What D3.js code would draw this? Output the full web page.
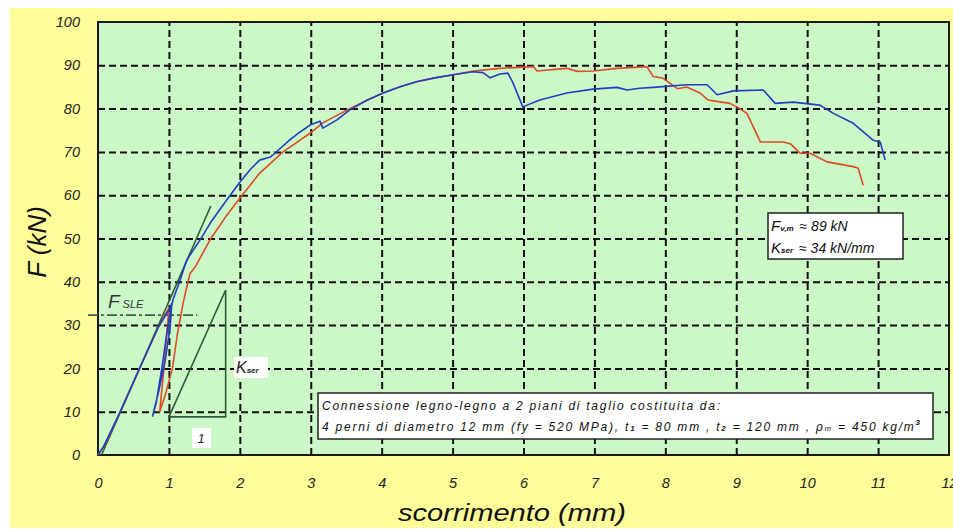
<!DOCTYPE html>
<html>
<head>
<meta charset="utf-8">
<script src="https://cdn.jsdelivr.net/npm/d3@7"></script>
<style>
  html, body { margin: 0; padding: 0; background: #ffffff; }
  svg { display: block; }
  text { font-family: "Liberation Sans", Arial, sans-serif; font-style: italic; }
</style>
</head>
<body>
<svg id="chart" width="953" height="532"></svg>
<script>
// Axis ticks
const xTicks = [0, 1, 2, 3, 4, 5, 6, 7, 8, 9, 10, 11, 12];
const yTicks = [0, 10, 20, 30, 40, 50, 60, 70, 80, 90, 100];

// Test 1 (blue): slip [mm], load [kN], including the unload/reload cycle at F_SLE
const blueSlip = [0, 0.08, 0.3, 0.6, 0.85, 1.0, 1.04, 1.02, 0.95, 0.86, 0.77, 0.82, 0.9, 0.97, 1.02, 1.06, 1.15, 1.25, 1.44, 1.6, 1.82, 2.0, 2.15, 2.28, 2.43, 2.55, 2.7, 2.85, 2.99, 3.13, 3.17, 3.37, 3.55, 3.8, 4.02, 4.25, 4.49, 4.75, 5.01, 5.29, 5.43, 5.53, 5.67, 5.78, 5.85, 5.99, 6.23, 6.61, 6.98, 7.32, 7.46, 7.64, 7.83, 8.3, 8.59, 8.73, 8.96, 9.38, 9.55, 9.8, 10.18, 10.37, 10.65, 10.93, 11.03, 11.1];
const blueLoad = [0, 2, 9.5, 20.5, 29.5, 33.5, 35, 30, 22, 15, 9, 12, 20, 28, 33, 36, 40, 45, 49.7, 54, 59, 63, 66, 68.1, 68.8, 70.5, 72.7, 74.6, 76.2, 77.1, 75.5, 77.4, 79.7, 82, 83.6, 85, 86.2, 87.1, 87.8, 88.5, 88.3, 87.1, 88, 88.2, 86, 80.4, 82, 83.6, 84.5, 84.9, 84.3, 84.7, 84.9, 85.5, 85.5, 83.2, 84.1, 84.3, 81.2, 81.5, 80.8, 78.9, 76.6, 72.7, 72.3, 68.1];

// Test 2 (red)
const redSlip = [0, 0.1, 0.3, 0.6, 0.85, 1.0, 0.97, 0.93, 0.87, 0.95, 1.05, 1.12, 1.2, 1.24, 1.27, 1.3, 1.37, 1.58, 1.8, 2.0, 2.28, 2.61, 2.85, 2.99, 3.17, 3.55, 3.8, 4.02, 4.25, 4.49, 4.75, 5.01, 5.29, 5.67, 6.14, 6.19, 6.61, 6.76, 6.98, 7.32, 7.74, 7.83, 7.97, 8.17, 8.3, 8.49, 8.6, 8.91, 9.01, 9.15, 9.34, 9.66, 9.76, 9.9, 10.04, 10.28, 10.65, 10.72, 10.79];
const redLoad = [0, 2.5, 9.5, 20.5, 29.5, 34, 28, 20, 10, 14, 20, 28, 35, 38, 40, 42, 43.4, 49.7, 55, 59.3, 65.1, 70, 72.7, 74.3, 76.7, 80, 82, 83.6, 85, 86.2, 87.1, 87.8, 88.7, 89.3, 89.7, 88.7, 89.3, 88.6, 88.7, 89.3, 89.7, 87.4, 87, 84.6, 85, 83.6, 82, 81.2, 80.4, 78.9, 72.3, 72.3, 71.9, 69.7, 69.7, 67.7, 66.6, 66.2, 62.3];

// Initial stiffness line and its slope triangle
const tangentSlip = [0.05, 1.59];
const tangentLoad = [0, 57.5];
const triangleSlip = [1.0, 1.8, 1.8, 1.0];
const triangleLoad = [8.8, 38.1, 8.8, 8.8];

// Service load level
const fSle = 32.3;

const svg = d3.select("#chart");
const plot = { left: 98, right: 949, top: 22, bottom: 455 };

const x = d3.scaleLinear().domain([0, 12]).range([plot.left, plot.right]);
const y = d3.scaleLinear().domain([0, 100]).range([plot.bottom, plot.top]);

// Backgrounds
svg.append("rect").attr("x", 10).attr("y", 8).attr("width", 943).attr("height", 520).attr("fill", "#fffc9a");
svg.append("rect").attr("x", plot.left).attr("y", plot.top)
  .attr("width", plot.right - plot.left).attr("height", plot.bottom - plot.top)
  .attr("fill", "#ccf8c8");

// Grid (dashed) through the axes
const gridX = svg.append("g").attr("transform", `translate(0,${plot.bottom})`)
  .call(d3.axisBottom(x).tickValues(xTicks.slice(1, -1)).tickSize(-(plot.bottom - plot.top)).tickFormat(""));
const gridY = svg.append("g").attr("transform", `translate(${plot.left},0)`)
  .call(d3.axisLeft(y).tickValues(yTicks.slice(1, -1)).tickSize(-(plot.right - plot.left)).tickFormat(""));
[gridX, gridY].forEach(g => {
  g.select(".domain").remove();
  g.selectAll("line").attr("stroke", "#111").attr("stroke-width", 2).attr("stroke-dasharray", "7,4");
});

// Tick labels
const axX = svg.append("g").attr("transform", `translate(0,${plot.bottom})`)
  .call(d3.axisBottom(x).tickValues(xTicks).tickSize(0).tickPadding(23).tickFormat(d3.format("d")));
const axY = svg.append("g").attr("transform", `translate(${plot.left},0)`)
  .call(d3.axisLeft(y).tickValues(yTicks).tickSize(0).tickPadding(18).tickFormat(d3.format("d")));
[axX, axY].forEach(g => {
  g.select(".domain").remove();
  g.selectAll("text").attr("font-size", 14.5).attr("fill", "#222")
    .attr("font-family", "'Liberation Sans', Arial, sans-serif").attr("font-style", "italic");
});

// Plot frame
svg.append("rect").attr("x", plot.left).attr("y", plot.top)
  .attr("width", plot.right - plot.left).attr("height", plot.bottom - plot.top)
  .attr("fill", "none").attr("stroke", "#1a1a1a").attr("stroke-width", 2);

// Stiffness construction
const lineGen = d3.line().x(d => x(d[0])).y(d => y(d[1]));
svg.append("path").attr("d", lineGen(d3.zip(tangentSlip, tangentLoad)))
  .attr("fill", "none").attr("stroke", "#2c5b38").attr("stroke-width", 1.6);
svg.append("path").attr("d", lineGen(d3.zip(triangleSlip, triangleLoad)))
  .attr("fill", "none").attr("stroke", "#2c5b38").attr("stroke-width", 1.6);

// F_SLE dash-dot level
svg.append("line").attr("x1", plot.left - 10).attr("x2", x(1.4))
  .attr("y1", y(fSle)).attr("y2", y(fSle))
  .attr("stroke", "#4a5a50").attr("stroke-width", 1.8).attr("stroke-dasharray", "10,3,3,3");

// Test curves
svg.append("path").attr("d", lineGen(d3.zip(redSlip, redLoad)))
  .attr("fill", "none").attr("stroke", "#dc4a26").attr("stroke-width", 1.6).attr("stroke-linejoin", "round");
svg.append("path").attr("d", lineGen(d3.zip(blueSlip, blueLoad)))
  .attr("fill", "none").attr("stroke", "#1f3fc0").attr("stroke-width", 1.6).attr("stroke-linejoin", "round");

// Annotations on the stiffness construction
const fsle = svg.append("text").attr("x", 108).attr("y", 308).attr("fill", "#333");
fsle.append("tspan").attr("font-size", 19).text("F");
fsle.append("tspan").attr("font-size", 11).attr("dx", 3).text("SLE");

svg.append("rect").attr("x", 234).attr("y", 357).attr("width", 34).attr("height", 21).attr("fill", "#ffffff");
const kl = svg.append("text").attr("x", 236).attr("y", 373).attr("fill", "#222");
kl.append("tspan").attr("font-size", 16).text("K");
kl.append("tspan").attr("font-size", 8).attr("font-weight", "bold").text("ser");

svg.append("rect").attr("x", 192).attr("y", 428).attr("width", 19).attr("height", 20).attr("fill", "#ffffff");
svg.append("text").attr("x", 201).attr("y", 443).attr("text-anchor", "middle").attr("font-size", 13).attr("fill", "#222").text("1");

// Results box
svg.append("rect").attr("x", 768).attr("y", 213).attr("width", 135).attr("height", 46)
  .attr("fill", "#ffffff").attr("stroke", "#222").attr("stroke-width", 1.5);
const r1 = svg.append("text").attr("x", 771).attr("y", 231).attr("fill", "#111").attr("font-size", 14);
r1.append("tspan").attr("font-size", 15).text("F");
r1.append("tspan").attr("font-size", 8).attr("font-weight", "bold").text("v,m");
r1.append("tspan").attr("dx", 6).text("≈ 89 kN");
const r2 = svg.append("text").attr("x", 771).attr("y", 253).attr("fill", "#111").attr("font-size", 14);
r2.append("tspan").attr("font-size", 15).text("K");
r2.append("tspan").attr("font-size", 8).attr("font-weight", "bold").text("ser");
r2.append("tspan").attr("dx", 6).text("≈ 34 kN/mm");

// Specimen description box
svg.append("rect").attr("x", 318).attr("y", 393).attr("width", 615).attr("height", 46)
  .attr("fill", "#ffffff").attr("stroke", "#222").attr("stroke-width", 1.5);
svg.append("text").attr("x", 322).attr("y", 410).attr("font-size", 12).attr("fill", "#111")
  .attr("textLength", 398).attr("lengthAdjust", "spacing")
  .text("Connessione legno-legno a 2 piani di taglio costituita da:");
const d2 = svg.append("text").attr("x", 322).attr("y", 431).attr("font-size", 12).attr("fill", "#111")
  .attr("textLength", 598).attr("lengthAdjust", "spacing");
d2.append("tspan").text("4 perni di diametro 12 mm  (fy = 520 MPa), t");
d2.append("tspan").attr("font-size", 8).attr("font-weight", "bold").text("1");
d2.append("tspan").text("  = 80 mm , t");
d2.append("tspan").attr("font-size", 8).attr("font-weight", "bold").text("2");
d2.append("tspan").text("  = 120 mm ,  ρ");
d2.append("tspan").attr("font-size", 8).text("m");
d2.append("tspan").text("  = 450 kg/m");
d2.append("tspan").attr("font-size", 8).attr("dy", -6).attr("font-weight", "bold").text("3");

// Axis titles
svg.append("text").attr("x", 512).attr("y", 521).attr("text-anchor", "middle")
  .attr("font-family", "'DejaVu Sans', Verdana, sans-serif").attr("font-size", 24).attr("fill", "#111")
  .attr("textLength", 228).attr("lengthAdjust", "spacingAndGlyphs")
  .text("scorrimento (mm)");
svg.append("text").attr("transform", "translate(46,242) rotate(-90)").attr("text-anchor", "middle")
  .attr("font-family", "'DejaVu Sans', Verdana, sans-serif").attr("font-size", 26).attr("fill", "#111")
  .text("F (kN)");
</script>
</body>
</html>
